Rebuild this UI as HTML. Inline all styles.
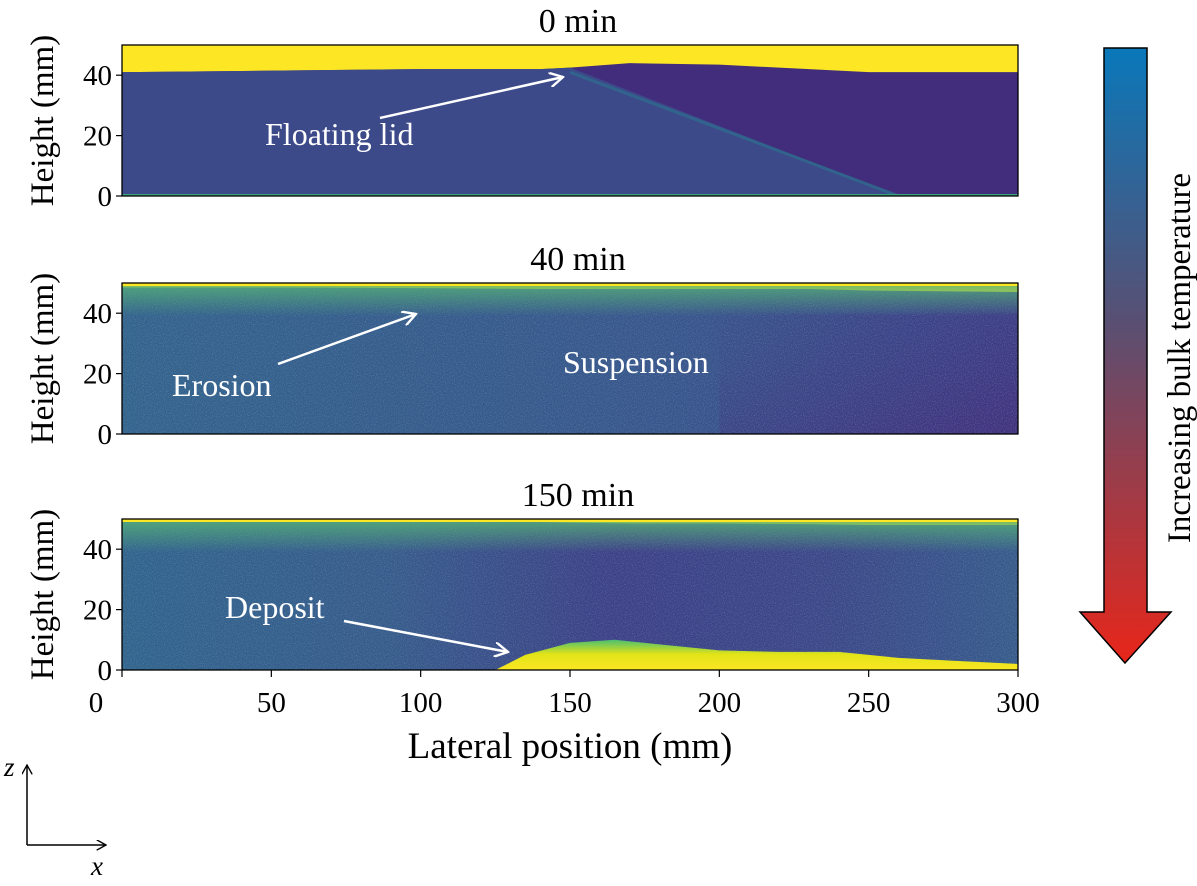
<!DOCTYPE html>
<html><head><meta charset="utf-8"><style>
html,body{margin:0;padding:0;background:#fff;}
svg{display:block;font-family:"Liberation Serif",serif;}
</style></head><body>
<svg id="fig" width="1197" height="886" viewBox="0 0 1197 886" xmlns="http://www.w3.org/2000/svg">
<defs>
<linearGradient id="tempGrad" x1="0" y1="0" x2="0" y2="1">
<stop offset="0" stop-color="#0a78b9"/><stop offset="0.45" stop-color="#5a4f72"/><stop offset="1" stop-color="#e8261a"/>
</linearGradient>
<linearGradient id="p2body" x1="0" y1="0" x2="1" y2="0">
<stop offset="0" stop-color="#33628d"/><stop offset="0.6" stop-color="#38558c"/><stop offset="1" stop-color="#3c4088"/>
</linearGradient>
<linearGradient id="p2right" x1="0" y1="0" x2="1" y2="1">
<stop offset="0" stop-color="#3c3f88" stop-opacity="0"/><stop offset="1" stop-color="#432e7c" stop-opacity="0.9"/>
</linearGradient>
<linearGradient id="p3body" x1="0" y1="0" x2="1" y2="0">
<stop offset="0" stop-color="#31638d"/><stop offset="0.3" stop-color="#375a8c"/><stop offset="0.55" stop-color="#3d3f87"/><stop offset="0.8" stop-color="#3c4789"/><stop offset="1" stop-color="#375a8c"/>
</linearGradient>
<linearGradient id="topHaze" x1="0" y1="0" x2="0" y2="1">
<stop offset="0" stop-color="#55b078" stop-opacity="0.8"/><stop offset="1" stop-color="#55b078" stop-opacity="0"/>
</linearGradient>
<linearGradient id="depGrad" x1="0" y1="0" x2="0" y2="1">
<stop offset="0" stop-color="#4cbf70"/><stop offset="0.45" stop-color="#e2e418"/><stop offset="1" stop-color="#fde725"/>
</linearGradient>
<filter id="noise" x="0" y="0" width="100%" height="100%">
<feTurbulence type="fractalNoise" baseFrequency="0.9" numOctaves="1" seed="3" result="n"/>
<feColorMatrix in="n" type="matrix" values="0 0 0 0 0.3  0 0 0 0 0.55  0 0 0 0 0.55  0 0 0 1.4 -0.6" result="c"/>
<feComposite in="c" in2="SourceGraphic" operator="in"/>
</filter>
<marker id="ah" viewBox="0 0 10 10" refX="9" refY="5" markerWidth="6" markerHeight="6" orient="auto"><path d="M0,0 L9,5 L0,10" fill="none" stroke="#fff" stroke-width="1.6"/></marker>
<marker id="axh" viewBox="0 0 10 10" refX="9" refY="5" markerWidth="7" markerHeight="7" orient="auto"><path d="M0,0 L9,5 L0,10" fill="none" stroke="#000" stroke-width="1.3"/></marker>
</defs>
<g id="panels"></g>
<g>
<path d="M1104,48 L1147,48 L1147,612 L1171,612 L1125,663 L1080,612 L1104,612 Z" fill="url(#tempGrad)" stroke="#000" stroke-width="1.5"/>
<text x="1190" y="358" font-size="33" text-anchor="middle" transform="rotate(-90 1190 358)">Increasing bulk temperature</text>
</g>
<text x="570" y="758" font-size="37" text-anchor="middle">Lateral position (mm)</text>
<g>
<line x1="27" y1="845" x2="27" y2="765" stroke="#000" stroke-width="1.5" marker-end="url(#axh)"/>
<line x1="27" y1="845" x2="106" y2="845" stroke="#000" stroke-width="1.5" marker-end="url(#axh)"/>
<text x="4" y="776" font-size="27" font-style="italic">z</text>
<text x="91" y="875" font-size="27" font-style="italic">x</text>
</g>
</svg>
<script>
const titles = ["0 min","40 min","150 min"];
const yTicks = [0,20,40];
const xTicks = [0,50,100,150,200,250,300];
const surfX = [0,50,100,140,150,170,200,230,250,300];
const surf0 = [41,41.5,42,42,42.5,44,43.5,42,41,41];
const surf2 = [48.5,48.5,48.3,48,48,48,48,48,47.5,47];
const surf3 = [49,49,49,49,48.8,48.5,48.5,48.3,48,48];
const depX = [125,135,150,165,180,200,220,240,260,280,300];
const depH = [0,5,9,10,8.5,6.5,6,6,4,3,2];
const lidLine = [[150,41],[260,0]];
const annotations = [
 {p:0,text:"Floating lid",tx:265,ty:145,from:[380,118],to:[563,77]},
 {p:1,text:"Erosion",tx:172,ty:396,from:[278,364],to:[416,314]},
 {p:1,text:"Suspension",tx:563,ty:373},
 {p:2,text:"Deposit",tx:225,ty:618,from:[344,621],to:[508,652]}
];
const tops=[45,283,519], H=151, X0=122, X1=1018;
const sx = v => X0 + v*(X1-X0)/300;
const NS="http://www.w3.org/2000/svg";
const root=document.getElementById('panels');
function mk(tag,attrs,parent){const e=document.createElementNS(NS,tag);for(const k in attrs)e.setAttribute(k,attrs[k]);(parent||root).appendChild(e);return e;}
function poly(xs,ys,sy,base){let d='M'+sx(xs[0])+','+base;xs.forEach((x,i)=>d+=' L'+sx(x)+','+sy(ys[i]));d+=' L'+sx(xs[xs.length-1])+','+base+' Z';return d;}
titles.forEach((t,p)=>{
 const top=tops[p], bot=top+H;
 const sy = v => bot - v*H/50;
 const g=mk('g',{});
 
 
 const clip=mk('clipPath',{id:'c'+p},g); mk('rect',{x:X0,y:top,width:X1-X0,height:H},clip);
 const img=mk('g',{'clip-path':'url(#c'+p+')'},g);
 mk('rect',{x:X0,y:top,width:X1-X0,height:H,fill:'#fde725'},img);
 if(p===0){
  mk('path',{d:poly(surfX,surf0,sy,bot),fill:'#412d7b'},img);
  let d='M'+sx(0)+','+bot+' L'+sx(0)+','+sy(41);
  surfX.forEach((x,i)=>{if(x<=lidLine[0][0])d+=' L'+sx(x)+','+sy(surf0[i]);});
  d+=' L'+sx(lidLine[1][0])+','+sy(lidLine[1][1])+' Z';
  mk('path',{d:d,fill:'#3d4a8a'},img);
  mk('line',{x1:sx(lidLine[0][0]),y1:sy(lidLine[0][1]),x2:sx(lidLine[1][0]),y2:sy(lidLine[1][1]),stroke:'#2f6b8d','stroke-width':3,opacity:0.8},img);
  mk('rect',{x:X0,y:bot-2,width:X1-X0,height:3,fill:'#3aa37e'},img);
 } else {
  const s=p===1?surf2:surf3;
  const body=mk('path',{d:poly(surfX,s,sy,bot),fill:p===1?'url(#p2body)':'url(#p3body)'},img);
  if(p===1) mk('rect',{x:sx(200),y:sy(40),width:sx(300)-sx(200),height:sy(0)-sy(40),fill:'url(#p2right)'},img);
  mk('path',{d:poly(surfX,s,sy,bot),fill:'#000',filter:'url(#noise)',opacity:0.5},img);
  mk('rect',{x:X0,y:sy(49),width:X1-X0,height:30,fill:'url(#topHaze)'},img);
  if(p===2){mk('path',{d:poly(depX,depH,sy,bot+2),fill:'url(#depGrad)'},img);}
 }
 mk('rect',{x:X0,y:top,width:X1-X0,height:H,fill:'none',stroke:'#000','stroke-width':1.3},g);
 const tt=mk('text',{x:578,y:top-13,'font-size':34,'text-anchor':'middle'},g); tt.textContent=t;
 
 
 yTicks.forEach(v=>{mk('line',{x1:X0-6,x2:X0,y1:sy(v),y2:sy(v),stroke:'#000','stroke-width':1.2},g);
  const l=mk('text',{x:X0-10,y:sy(v)+10,'font-size':29,'text-anchor':'end'},g);l.textContent=v;
  
  });
 const yl=mk('text',{x:53,y:(top+bot)/2,'font-size':33,'text-anchor':'middle',transform:'rotate(-90 53 '+((top+bot)/2)+')'},g);
 yl.textContent='Height (mm)';
 
 
 if(p===2){xTicks.forEach(v=>{mk('line',{x1:sx(v),x2:sx(v),y1:bot,y2:bot+7,stroke:'#000','stroke-width':1.2},g);
  const l=mk('text',{x:sx(v)-(v===0?26:0),y:bot+42,'font-size':29,'text-anchor':'middle'},g);l.textContent=v;
  
  });}
});
annotations.forEach(a=>{
 const t=mk('text',{x:a.tx,y:a.ty,'font-size':32,fill:'#fff'});t.textContent=a.text;
 
 
 if(a.from){const l=mk('line',{x1:a.from[0],y1:a.from[1],x2:a.to[0],y2:a.to[1],stroke:'#fff','stroke-width':2.5,'marker-end':'url(#ah)'});
  
  }
});
</script>
</body></html>
